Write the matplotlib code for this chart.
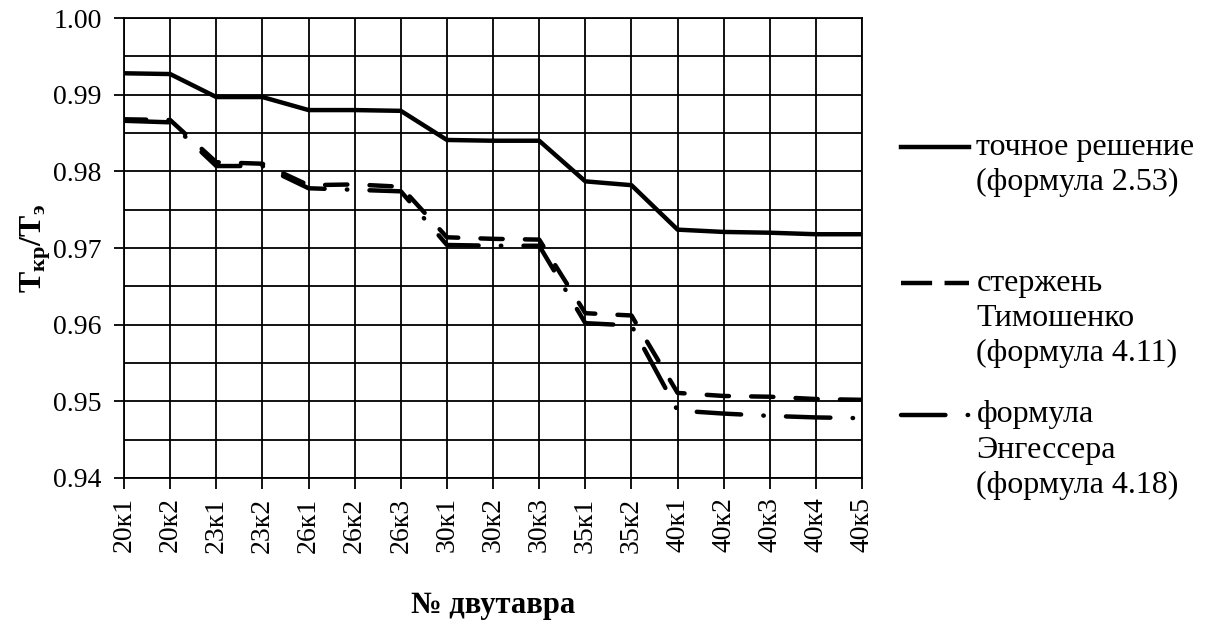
import numpy as np
import matplotlib
matplotlib.use('Agg')
import matplotlib.pyplot as plt
from matplotlib.lines import Line2D
from matplotlib.ticker import MultipleLocator, FormatStrFormatter

plt.rcParams['font.family'] = ['Liberation Serif', 'DejaVu Serif']
plt.rcParams['mathtext.fontset'] = 'custom'
plt.rcParams['mathtext.rm'] = 'Liberation Serif:bold'
plt.rcParams['mathtext.bf'] = 'Liberation Serif:bold'
plt.rcParams['mathtext.it'] = 'Liberation Serif:bold'

# data
categories = ['20к1', '20к2', '23к1', '23к2', '26к1', '26к2', '26к3',
              '30к1', '30к2', '30к3', '35к1', '35к2',
              '40к1', '40к2', '40к3', '40к4', '40к5']
exact = [0.9928, 0.9927, 0.9897, 0.9897, 0.9880, 0.9880, 0.9879,
         0.9841, 0.9840, 0.9840, 0.9787, 0.9782,
         0.9724, 0.9721, 0.9720, 0.9718, 0.9718]
timoshenko = [0.9868, 0.9867, 0.9812, 0.9810, 0.9782, 0.9783, 0.9780,
              0.9714, 0.9712, 0.9711, 0.9615, 0.9612,
              0.9511, 0.9507, 0.9506, 0.9503, 0.9502]
engesser = [0.9866, 0.9864, 0.9807, 0.9807, 0.9778, 0.9776, 0.9774,
            0.9704, 0.9703, 0.9703, 0.9602, 0.9599,
            0.9488, 0.9484, 0.9481, 0.9479, 0.9478]

labels = [['точное решение', '(формула 2.53)'],
          ['стержень', 'Тимошенко', '(формула 4.11)'],
          ['формула', 'Энгессера', '(формула 4.18)']]

fig = plt.figure(figsize=(12.1, 6.24), dpi=100)
ax = fig.add_axes([0.1025, 0.234, 0.61, 0.737])

x = np.arange(len(categories))
lw = 3.2
styles = [dict(linestyle='-'),
          dict(dashes=(5, 5), dash_capstyle='round'),
          dict(dashes=(10, 5, 0.1, 5), dash_capstyle='round')]
for ys_, st in zip([exact, timoshenko, engesser], styles):
    ax.plot(x, ys_, color='black', lw=lw, zorder=5, **st)

ax.set_xlim(0, len(categories) - 1)
ax.set_ylim(0.94, 1.00)
ax.yaxis.set_major_locator(MultipleLocator(0.01))
ax.yaxis.set_minor_locator(MultipleLocator(0.005))
ax.yaxis.set_major_formatter(FormatStrFormatter('%.2f'))
ax.set_xticks(x)
ax.set_xticklabels(categories, rotation=90, fontsize=20)
ax.tick_params(axis='y', labelsize=20, length=7, width=1.3, direction='out', pad=9)
ax.tick_params(axis='y', which='minor', length=0)
ax.tick_params(axis='x', length=8, width=1.3, direction='out', pad=6)

ax.grid(True, which='both', color='black', lw=1.3)
ax.set_axisbelow(True)
for s in ax.spines.values():
    s.set_linewidth(1.3)

ax.set_xlabel('№ двутавра', fontsize=22, fontweight='bold', labelpad=28)
ax.set_ylabel(r'$\mathbf{T_{кр}/T_{э}}$', fontsize=23, labelpad=0)

# legend drawn by hand so that handles align with first text line
legend_y = [0.764, 0.546, 0.335]
line_step = 0.0565
legend_styles = [dict(linestyle='-'),
                 dict(dashes=(7, 2.8), dash_capstyle='butt'),
                 dict(dashes=(10, 5, 0.1, 5), dash_capstyle='round')]
for st, lab, yy in zip(legend_styles, labels, legend_y):
    fig.add_artist(Line2D([0.745, 0.801], [yy, yy], transform=fig.transFigure,
                          color='black', lw=lw, **st))
    for i, t in enumerate(lab):
        fig.text(0.807, yy - i * line_step, t, fontsize=23, va='center', ha='left')

fig.savefig('out.png', dpi=100)
